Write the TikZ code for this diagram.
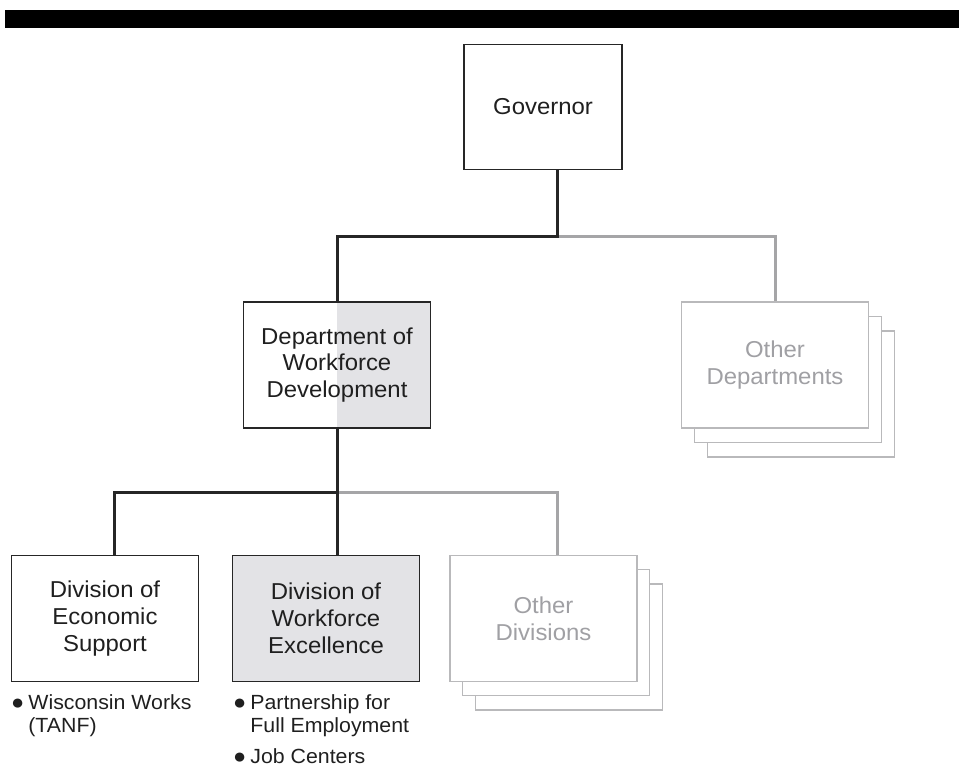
\documentclass[tikz,border=0pt]{standalone}
\usepackage{fontspec}
\usepackage{xcolor}
\usepackage{tikz}
\usetikzlibrary{backgrounds}
\setmainfont{Liberation Sans}[FakeStretch=1.04]

\definecolor{boxgray}{RGB}{227,227,230}
\definecolor{dimline}{RGB}{165,165,167}
\definecolor{dimedge}{RGB}{185,185,187}
\definecolor{dimtext}{RGB}{160,160,164}
\newcommand\chartfont{\fontsize{23}{26.8}\selectfont}
\newcommand\notefont{\fontsize{20.5}{23}\selectfont}
\newcommand\dotmark{{\fontsize{21}{23}\selectfont ●}}

\begin{document}
\begin{tikzpicture}[x=1pt, y=-1pt,
    box/.style={draw=black!85, line width=1.3pt, minimum width=187pt, minimum height=126pt,
                align=center, inner sep=0pt, text=black!88, font=\chartfont},
    dimbox/.style={box, draw=dimedge, fill=white, text=dimtext},
    note/.style={anchor=north west, inner sep=0pt, text=black!88, font=\notefont},
    link/.style={line width=3pt, black!85},
    dimlink/.style={line width=3pt, dimline}]
    \useasboundingbox (0,0) rectangle (959,767);
    \fill[black] (5,10) rectangle (959,28);

    \node[box, minimum width=158pt, minimum height=125pt] (gov) at (543,107) {Governor};
    \node[box] (dwd) at (337,365) {Department of\\Workforce\\Development};
    \begin{scope}[on background layer]
        \fill[boxgray] (dwd.north) rectangle (dwd.south east);
    \end{scope}

    \node[dimbox] (othdepC) at (801,394) {};
    \node[dimbox] (othdepB) at (788,379.5) {};
    \node[dimbox] (othdep) at (775,365) {Other\\Departments};

    \node[box] (econ) at (105,618.5) {Division of\\Economic\\Support};
    \node[box, fill=boxgray] (dwe) at (326,618.5) {Division of\\Workforce\\Excellence};

    \node[dimbox] (othdivC) at (569,647) {};
    \node[dimbox] (othdivB) at (556,632.5) {};
    \node[dimbox] (othdiv) at (543.5,618.5) {Other\\Divisions};

    \node[note] (econnote) at (11,693) {%
        \begin{tabular}{@{}l@{\hspace{4pt}}l@{}}
            \dotmark & Wisconsin Works\\
                     & (TANF)
        \end{tabular}};
    \node[note] (dwenote) at (233,693) {%
        \begin{tabular}{@{}l@{\hspace{4pt}}l@{}}
            \dotmark & Partnership for\\
                     & Full Employment\\[8pt]
            \dotmark & Job Centers
        \end{tabular}};

    \coordinate (govj) at (557,237);
    \coordinate (dwdj) at (337,492);
    \coordinate (econj) at (114,492);
    \coordinate (divj) at (557,492);

    \draw[dimlink] (govj) -| (othdep.north);
    \draw[link] (govj |- gov.south) -- (govj) -| (dwd.north);
    \draw[dimlink] (dwdj) -- (divj) -- (divj |- othdiv.north);
    \draw[link] (dwd.south) -- (dwdj) -- (econj) -- (econj |- econ.north);
    \draw[link] (dwdj) -- (dwdj |- dwe.north);
\end{tikzpicture}
\end{document}
